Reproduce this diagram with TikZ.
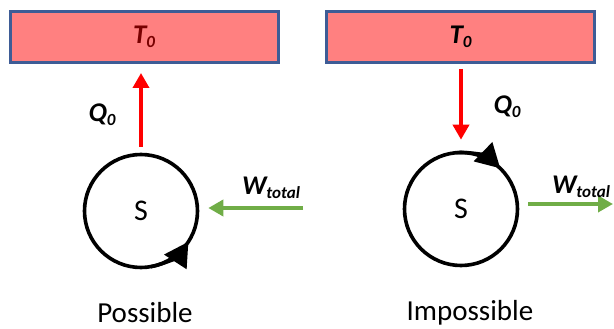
\documentclass[tikz,border=0pt]{standalone}
\usepackage{fontspec}
\setmainfont{Carlito}
\usetikzlibrary{arrows.meta}
\definecolor{resfill}{RGB}{255,128,128}
\definecolor{resedge}{RGB}{62,92,150}
\definecolor{heatred}{RGB}{255,0,0}
\definecolor{workgreen}{RGB}{112,173,71}
\definecolor{darkT}{RGB}{120,0,0}
\newcommand{\bsub}[2]{\textbf{\textit{#1\raisebox{-0.3ex}{\fontsize{17}{17}\selectfont #2}}}}
\begin{document}
\begin{tikzpicture}[x=1pt,y=-1pt,
  reservoir/.style={draw=resedge, fill=resfill, line width=3pt, minimum width=268pt,
    minimum height=51pt, inner sep=0pt, font=\fontsize{27}{27}\selectfont},
  sys/.style={circle, draw, line width=3.6pt, minimum size=113pt, inner sep=0pt,
    font=\fontsize{30}{30}\selectfont},
  heat/.style={heatred, line width=3.6pt, -{Triangle[width=16pt,length=15pt]}},
  work/.style={workgreen, line width=3.6pt, -{Triangle[width=16pt,length=15pt]}},
  cycle/.style={line width=3.6pt, -{Triangle[width=26pt,length=24pt]}},
  lbl/.style={inner sep=0pt, font=\fontsize{27}{27}\selectfont},
  caption/.style={inner sep=0pt, font=\fontsize{29}{29}\selectfont}]
\useasboundingbox (0,0) rectangle (614,329);

% possible case
\node[reservoir, text=darkT] (R1) at (144,37) {\bsub{T}{0}};
\node[sys] (S1) at (141,211) {S};
\draw[heat, shorten <=6pt, shorten >=9pt] (S1.north) -- (S1.north |- R1.south);
\node[lbl] (Q1) at (102,115) {\bsub{Q}{0}};
\coordinate (w1) at (303,208);
\draw[work, shorten >=9pt] (w1) -- (S1.east |- w1);
\node[lbl] (W1) at (271,188) {\bsub{W}{total}};
\draw[cycle] (S1.center) ++(80:56.5) arc[start angle=80, end angle=33, radius=56.5];
\node[caption] (P1) at (145,313) {Possible};

% impossible case
\node[reservoir] (R2) at (460.5,37) {\bsub{T}{0}};
\node[sys] (S2) at (461,209) {S};
\draw[heat, shorten <=5pt, shorten >=11pt] (S2.north |- R2.south) -- (S2.north);
\node[lbl] (Q2) at (507,107) {\bsub{Q}{0}};
\coordinate (w2) at (613,204);
\draw[work, shorten <=9pt] (S2.east |- w2) -- (w2);
\node[lbl] (W2) at (581,187) {\bsub{W}{total}};
\draw[cycle] (S2.center) ++(-94:56.5) arc[start angle=-94, end angle=-46, radius=56.5];
\node[caption] (P2) at (470,313) {Impossible};
\end{tikzpicture}
\end{document}
